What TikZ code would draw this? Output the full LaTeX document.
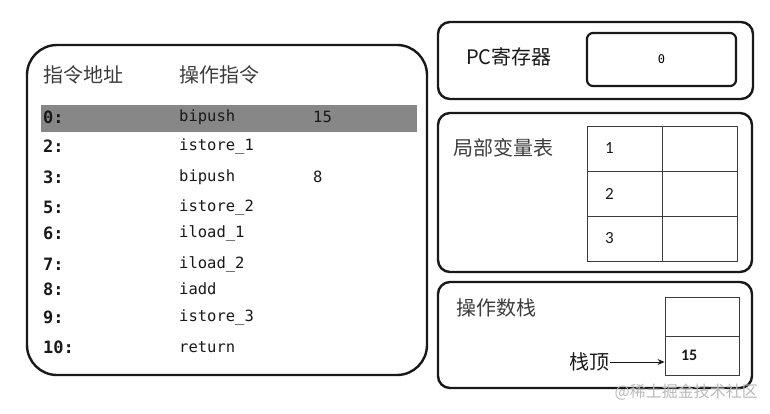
\documentclass[tikz,border=0pt]{standalone}
\usepackage{fontspec}
\setmainfont{Carlito}
\setmonofont{DejaVu Sans Mono}
\newfontfamily\cjk{Noto Sans CJK SC}
\usepackage{xcolor}
\usepackage{tikz}
\usetikzlibrary{arrows.meta, positioning}
\definecolor{ink}{RGB}{25,25,25}
\definecolor{textgray}{RGB}{60,60,60}
\definecolor{bargray}{RGB}{135,135,135}
\definecolor{markgray}{RGB}{185,185,185}
\newcommand{\pxsize}[1]{\fontsize{#1}{#1}\selectfont}

\begin{document}
\begin{tikzpicture}[x=1pt, y=-1pt, >=Stealth]
  \tikzstyle{panel} = [draw=ink, line width=2.4pt]
  \tikzstyle{cell} = [rectangle, draw=ink!85, line width=0.9pt, inner sep=0pt, minimum width=75pt, minimum height=45pt]
  \tikzstyle{title} = [anchor=west, inner sep=0pt, text=textgray, font=\cjk\pxsize{20}]
  \tikzstyle{addr} = [anchor=west, inner sep=0pt, text=ink, font=\ttfamily\bfseries\pxsize{17}]
  \tikzstyle{instr} = [anchor=west, inner sep=0pt, text=ink, font=\ttfamily\pxsize{15.5}]
  \tikzstyle{num} = [font=\pxsize{17}, text=ink, align=left]

  \useasboundingbox (0,0) rectangle (770,413);

  % instruction list
  \draw[panel, rounded corners=30pt] (27,45) rectangle (427,375);
  \fill[bargray] (41,105) rectangle (417,132);
  \node [title] (haddr) at (43,75) {指令地址};
  \node [title] (hinstr) at (179,75) {操作指令};

  \node [addr] (a0) at (43,117) {0:};
  \node [addr] (a2) at (43,146) {2:};
  \node [addr] (a3) at (43,177) {3:};
  \node [addr] (a5) at (43,207) {5:};
  \node [addr] (a6) at (43,233) {6:};
  \node [addr] (a7) at (43,264) {7:};
  \node [addr] (a8) at (43,289) {8:};
  \node [addr] (a9) at (43,317) {9:};
  \node [addr] (a10) at (43,347) {10:};

  \node [instr] (i0) at (179,117) {bipush};
  \node [instr] (i2) at (179,146) {istore\_1};
  \node [instr] (i3) at (179,177) {bipush};
  \node [instr] (i5) at (179,207) {istore\_2};
  \node [instr] (i6) at (179,233) {iload\_1};
  \node [instr] (i7) at (179,264) {iload\_2};
  \node [instr] (i8) at (179,289) {iadd};
  \node [instr] (i9) at (179,317) {istore\_3};
  \node [instr] (i10) at (179,347) {return};

  \node [instr] (o0) at (313,117) {15};
  \node [instr] (o3) at (313,177) {8};

  % PC register
  \draw[panel, rounded corners=12pt] (438,22) rectangle (753,99);
  \node [title, text=ink] (pc) at (466,57) {PC寄存器};
  \node [draw=ink, line width=2.2pt, rounded corners=6pt, minimum width=149pt, minimum height=53pt, font=\ttfamily\pxsize{12}] (pcval) at (661.5,59.5) {0};

  % local variables
  \draw[panel, rounded corners=12pt] (438,113) rectangle (752,272);
  \node [title] (lvt) at (453,148) {局部变量表};
  \node [cell, num, inner xsep=18pt, text width=39pt] (lv1) at (624.5,148.5) {1};
  \node [cell] (lv1v) at (699.5,148.5) {};
  \node [cell, num, inner xsep=18pt, text width=39pt] (lv2) at (624.5,193.5) {2};
  \node [cell] (lv2v) at (699.5,193.5) {};
  \node [cell, num, inner xsep=18pt, text width=39pt] (lv3) at (624.5,238.5) {3};
  \node [cell] (lv3v) at (699.5,238.5) {};

  % operand stack
  \draw[panel, rounded corners=12pt] (438,282) rectangle (752,388);
  \node [title] (ost) at (456,308) {操作数栈};
  \node [cell, minimum width=74pt, minimum height=39pt] (stk1) at (702,316.5) {};
  \node [cell, num, font=\bfseries\pxsize{16}, minimum width=74pt, minimum height=39pt, inner xsep=16pt, text width=42pt] (stk2) at (702,355.5) {15};
  \node [title, anchor=east, text=ink] (top) at (610,362) {栈顶};
  \draw[-{Stealth[length=7pt, width=6pt]}, ink, line width=0.9pt] (top.east) -- (top.east -| stk2.west);

  \node [anchor=east, inner sep=0pt, text=markgray, font=\cjk\pxsize{16}] (mark) at (758,392) {@稀土掘金技术社区};
\end{tikzpicture}
\end{document}
